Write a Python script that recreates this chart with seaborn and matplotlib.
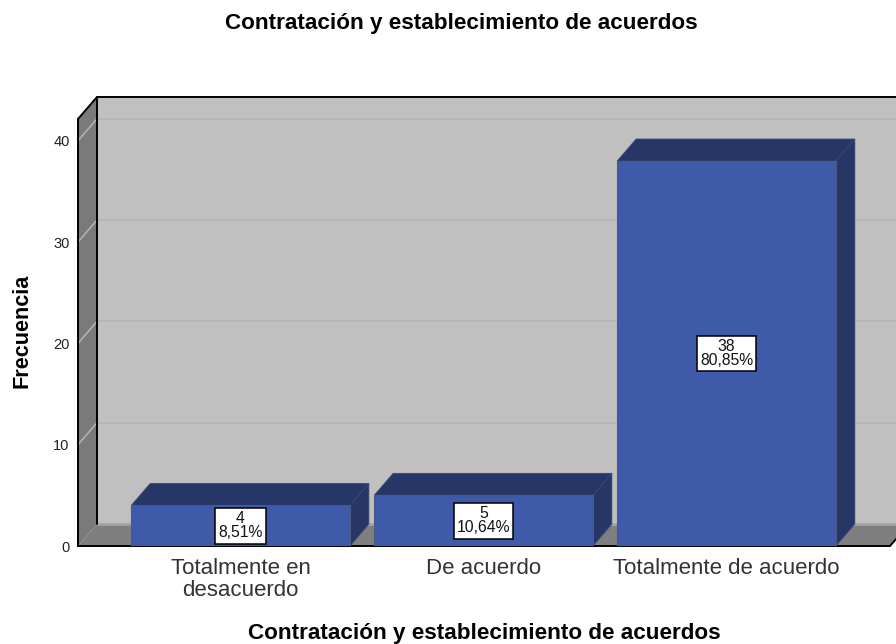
import matplotlib
matplotlib.use("Agg")
import matplotlib.pyplot as plt
import pandas as pd
import seaborn as sns
from matplotlib.patches import Polygon

# values
categories = ["Totalmente en\ndesacuerdo", "De acuerdo", "Totalmente de acuerdo"]
counts = [4, 5, 38]
percents = ["8,51%", "10,64%", "80,85%"]
y_ticks = [0, 10, 20, 30, 40]

TITLE = "Contratación y establecimiento de acuerdos"
FRONT = "#3e5aa8"
DARK = "#263767"

sns.set_theme(style="white")
plt.rcParams["font.family"] = ["Liberation Sans", "DejaVu Sans"]

df = pd.DataFrame({"cat": categories, "n": counts})

W, H = 896, 644
fig = plt.figure(figsize=(W / 100, H / 100), dpi=100)
ax = fig.add_axes([78 / W, (H - 546) / H, (890 - 78) / W, (546 - 119) / H])

sns.barplot(data=df, x="cat", y="n", color=FRONT, saturation=1, width=0.9,
            linewidth=0.8, edgecolor="#4a5a85", ax=ax, zorder=5)

ax.set_xlim(-0.669, 2.673)
ax.set_ylim(0, 42.15)
ax.patch.set_visible(False)
sns.despine(ax=ax, left=True, bottom=True, top=True, right=True)

# depth of the fake 3D box, in data units
x0, x1 = ax.get_xlim()
y0, y1 = ax.get_ylim()
dx = 19 / 243
dy = 22 / 10.13


def face(pts, color, z, edge="none", lw=0):
    ax.add_patch(Polygon(pts, closed=True, facecolor=color, edgecolor=edge,
                         linewidth=lw, clip_on=False, zorder=z))


# walls and floor
face([(x0 + dx, dy), (x1 + dx, dy), (x1 + dx, y1 + dy), (x0 + dx, y1 + dy)], "#c0c0c0", 1)
face([(x0, 0), (x0 + dx, dy), (x0 + dx, y1 + dy), (x0, y1)], "#7a7a7a", 2)
face([(x0, 0), (x1, 0), (x1 + dx, dy), (x0 + dx, dy)], "#7f7f7f", 2)

for t in y_ticks[1:]:
    ax.plot([x0 + dx, x1 + dx], [t + dy, t + dy], color="#b6b6b6", lw=1.4, clip_on=False, zorder=1.5)
    ax.plot([x0, x0 + dx], [t, t + dy], color="#b4b4b4", lw=1.1, clip_on=False, zorder=2.5)
ax.plot([x0 + dx, x1 + dx], [dy, dy], color="#a4a4a4", lw=2, clip_on=False, zorder=2.5)

# box outline
ax.plot([x0 + dx, x0 + dx], [dy, y1 + dy], color="black", lw=1.4, clip_on=False, zorder=3)
ax.plot([x0, x0 + dx, x1 + dx], [y1, y1 + dy, y1 + dy], color="black", lw=1.4, clip_on=False, zorder=3)
ax.plot([x0, x0], [0, y1], color="black", lw=1.4, clip_on=False, zorder=3)
ax.plot([x0, x1, x1 + dx], [0, 0, dy], color="black", lw=1.4, clip_on=False, zorder=4)

# top and side of each bar, taken from the bars seaborn drew
for bar, n, pct in zip(ax.patches, counts, percents):
    left, right = bar.get_x(), bar.get_x() + bar.get_width()
    top = bar.get_height()
    face([(left, top), (right, top), (right + dx, top + dy), (left + dx, top + dy)], DARK, 4.5, "#3a4770", 0.6)
    face([(right, 0), (right + dx, dy), (right + dx, top + dy), (right, top)], DARK, 4.5, "#3a4770", 0.6)
    ax.text((left + right) / 2, top / 2, f"{n}\n{pct}", ha="center", va="center", fontsize=11.3,
            color="#111111", linespacing=0.95, zorder=7,
            bbox=dict(facecolor="white", edgecolor="black", linewidth=1.1, boxstyle="square,pad=0.2"))

ax.set_yticks(y_ticks)
ax.set_yticklabels(y_ticks, fontsize=10.5, color="#222222")
ax.set_xticks(range(len(categories)))
ax.set_xticklabels(categories, fontsize=16, color="#333333", linespacing=1.08)
ax.tick_params(axis="x", length=0, pad=8.5)
ax.tick_params(axis="y", length=0, pad=6)
ax.set_xlabel("")
ax.set_ylabel("")

fig.text(461 / W, 1 - 24 / H, TITLE, ha="center", va="center", fontsize=16.2, fontweight="bold", color="black")
fig.text(484 / W, 1 - 634 / H, TITLE, ha="center", va="center", fontsize=16.2, fontweight="bold", color="black")
fig.text(22 / W, 1 - 331 / H, "Frecuencia", ha="center", va="center", rotation=90,
         fontsize=15.6, fontweight="bold", color="black")

fig.savefig("out.png", dpi=100)
